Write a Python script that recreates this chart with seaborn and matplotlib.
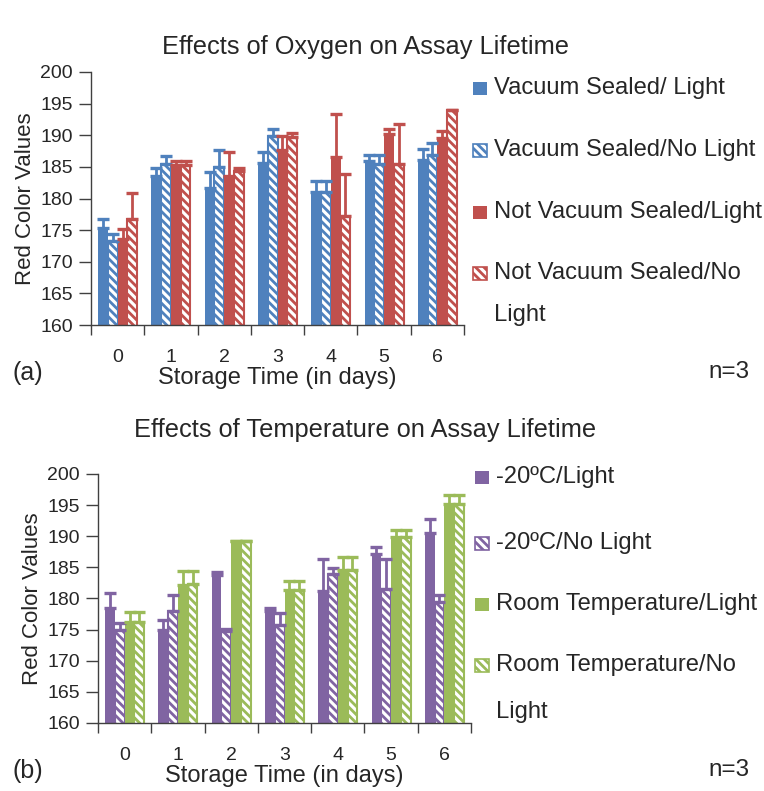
import matplotlib
matplotlib.use("Agg")
from matplotlib import pyplot as plt
from matplotlib.patches import Rectangle
import seaborn as sns
import pandas as pd
import numpy as np

# ---- data ----
days = [0, 1, 2, 3, 4, 5, 6]

oxy_labels = ["Vacuum Sealed/ Light", "Vacuum Sealed/No Light",
              "Not Vacuum Sealed/Light", "Not Vacuum Sealed/No\nLight"]
vs_light = [175.3, 183.6, 181.6, 185.6, 181.0, 185.9, 186.1]
vs_light_err = [1.5, 1.3, 2.6, 1.7, 1.8, 1.0, 1.7]
vs_dark = [173.3, 185.5, 185.0, 189.9, 181.0, 185.4, 186.9]
vs_dark_err = [1.1, 1.2, 2.7, 1.1, 1.8, 1.4, 1.8]
nvs_light = [173.6, 185.3, 183.6, 187.6, 186.5, 190.2, 189.6]
nvs_light_err = [1.6, 0.6, 3.7, 2.3, 6.8, 0.8, 1.1]
nvs_dark = [176.7, 185.3, 184.3, 189.7, 177.3, 185.4, 194.0]
nvs_dark_err = [4.1, 0.6, 0.6, 0.6, 6.5, 6.3, 0.0]

temp_labels = ["-20ºC/Light", "-20ºC/No Light",
               "Room Temperature/Light", "Room Temperature/No\nLight"]
cold_light = [178.5, 174.9, 183.7, 178.0, 181.2, 187.2, 190.5]
cold_light_err = [2.4, 1.7, 0.5, 0.5, 5.2, 1.0, 2.3]
cold_dark = [175.0, 178.0, 174.8, 175.8, 184.0, 181.6, 179.4]
cold_dark_err = [1.0, 2.6, 0.3, 1.9, 0.9, 4.7, 1.2]
room_light = [176.3, 182.2, 189.2, 181.3, 184.5, 189.9, 195.2]
room_light_err = [1.6, 2.2, 0.1, 1.5, 2.2, 1.1, 1.4]
room_dark = [176.3, 182.4, 189.2, 181.3, 184.5, 189.9, 195.2]
room_dark_err = [1.6, 2.0, 0.1, 1.5, 2.2, 1.1, 1.4]

oxy_colors = ["#4F81BD", "#4F81BD", "#C0504D", "#C0504D"]
temp_colors = ["#8064A2", "#8064A2", "#9BBB59", "#9BBB59"]
hatched = [False, True, False, True]

sns.set_style("white")
plt.rcParams['font.family'] = ['Liberation Sans', 'DejaVu Sans']
plt.rcParams['hatch.linewidth'] = 2.0

HATCH = '\\\\\\\\'


def make_df(labels, values):
    rows = []
    for lab, vals in zip(labels, values):
        for d, v in zip(days, vals):
            rows.append({"day": d, "series": lab, "value": v})
    return pd.DataFrame(rows)


def draw_panel(ax, labels, values, errs, colors):
    df = make_df(labels, values)
    sns.barplot(data=df, x="day", y="value", hue="series", hue_order=labels,
                palette=colors, width=0.73, errorbar=None, legend=False,
                saturation=1, ax=ax)
    for cont, col, hat, vals, err in zip(ax.containers, colors, hatched, values, errs):
        xs = []
        for p in cont.patches:
            if hat:
                p.set_facecolor("white")
                p.set_edgecolor(col)
                p.set_hatch(HATCH)
                p.set_linewidth(1.5)
            else:
                p.set_facecolor(col)
                p.set_edgecolor(col)
                p.set_linewidth(0)
            xs.append(p.get_x() + p.get_width() / 2)
        ax.errorbar(xs, vals, yerr=[np.zeros(len(err)), err], fmt='none',
                    ecolor=col, elinewidth=2, capsize=4, capthick=2.4, zorder=1)
    ax.set_ylim(160, 200)
    ax.set_xlim(-0.5, 6.5)
    ax.set_yticks(range(160, 201, 5))
    ax.set_xticks(range(7))
    ax.set_xticklabels([str(d) for d in days])
    ax.set_xticks(np.arange(-0.5, 7, 1), minor=True)
    ax.tick_params(axis='x', which='major', length=0, pad=17, labelsize=14)
    ax.tick_params(axis='x', which='minor', length=7, width=1, color='#404040',
                   direction='out', bottom=True)
    ax.tick_params(axis='y', length=9, width=1, color='#404040', direction='out',
                   left=True, pad=4, labelsize=14)
    for s in ['top', 'right']:
        ax.spines[s].set_visible(False)
    for s in ['left', 'bottom']:
        ax.spines[s].set_color('#404040')
        ax.spines[s].set_linewidth(1)
    ax.set_ylabel("Red Color Values", fontsize=16, labelpad=3)
    ax.set_xlabel("Storage Time (in days)", fontsize=17, labelpad=1)


def draw_legend(fig, labels, colors, x0, ys, y_extra):
    W, H = 764, 791
    for lab, col, hat, y in zip(labels, colors, hatched, ys):
        if hat:
            r = Rectangle((x0 / W, 1 - (y + 7) / H), 14 / W, 13 / H,
                          transform=fig.transFigure, facecolor='white',
                          edgecolor=col, hatch=HATCH, linewidth=1.2)
        else:
            r = Rectangle((x0 / W, 1 - (y + 7) / H), 14 / W, 13 / H,
                          transform=fig.transFigure, facecolor=col,
                          edgecolor=col, linewidth=0)
        fig.add_artist(r)
        first = lab.split("\n")[0]
        fig.text((x0 + 21) / W, 1 - y / H, first, fontsize=17.1, va='center',
                 ha='left')
        if "\n" in lab:
            fig.text((x0 + 21) / W, 1 - y_extra / H, lab.split("\n")[1],
                     fontsize=17.1, va='center', ha='left')


fig = plt.figure(figsize=(7.64, 7.91), dpi=100)
W, H = 764, 791

ax1 = fig.add_axes([91 / W, 1 - 325 / H, (464 - 91) / W, (325 - 72) / H])
draw_panel(ax1, oxy_labels, [vs_light, vs_dark, nvs_light, nvs_dark],
           [vs_light_err, vs_dark_err, nvs_light_err, nvs_dark_err], oxy_colors)

ax2 = fig.add_axes([98 / W, 1 - 723 / H, (471 - 98) / W, (723 - 474) / H])
draw_panel(ax2, temp_labels, [cold_light, cold_dark, room_light, room_dark],
           [cold_light_err, cold_dark_err, room_light_err, room_dark_err], temp_colors)

fig.text(365 / W, 1 - 47 / H, "Effects of Oxygen on Assay Lifetime",
         fontsize=18.3, ha='center', va='center')
fig.text(365 / W, 1 - 430 / H, "Effects of Temperature on Assay Lifetime",
         fontsize=18.3, ha='center', va='center')

draw_legend(fig, oxy_labels, oxy_colors, 473, [88, 150, 212, 273], 315)
draw_legend(fig, temp_labels, temp_colors, 475, [477, 543, 604, 665], 712)

fig.text(12 / W, 1 - 373 / H, "(a)", fontsize=18, ha='left', va='center')
fig.text(12 / W, 1 - 771 / H, "(b)", fontsize=18, ha='left', va='center')
fig.text(750 / W, 1 - 372 / H, "n=3", fontsize=17.5, ha='right', va='center')
fig.text(750 / W, 1 - 770 / H, "n=3", fontsize=17.5, ha='right', va='center')

fig.savefig("out.png", dpi=100)
